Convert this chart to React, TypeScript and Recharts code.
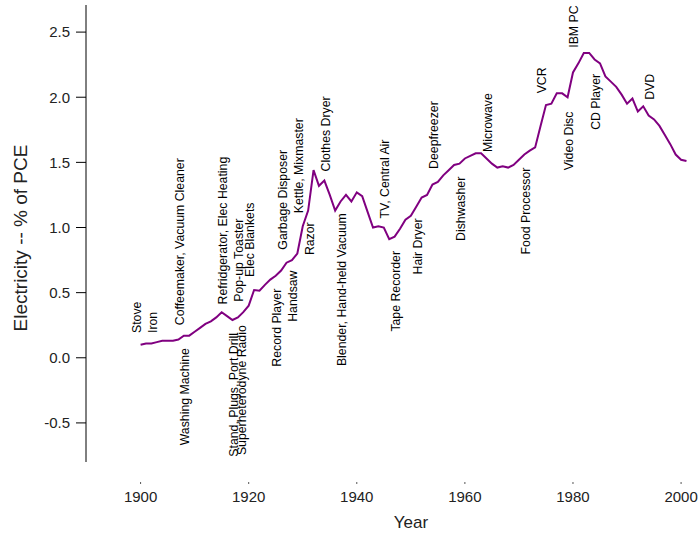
import { ComposedChart, Line, Scatter, XAxis, YAxis } from "recharts"

const firstYear = 1900
const pce = [
  0.10, 0.11, 0.11, 0.12, 0.13, 0.13, 0.13, 0.14, 0.17, 0.17,
  0.20, 0.23, 0.26, 0.28, 0.31, 0.35, 0.32, 0.29, 0.31, 0.35,
  0.40, 0.52, 0.515, 0.56, 0.60, 0.63, 0.67, 0.73, 0.75, 0.80,
  1.01, 1.13, 1.44, 1.32, 1.36, 1.25, 1.13, 1.20, 1.25, 1.20,
  1.27, 1.24, 1.12, 1.00, 1.01, 1.00, 0.91, 0.93, 0.99, 1.06,
  1.09, 1.16, 1.23, 1.25, 1.33, 1.35, 1.40, 1.44, 1.48, 1.49,
  1.53, 1.55, 1.57, 1.57, 1.53, 1.49, 1.46, 1.47, 1.46, 1.48,
  1.52, 1.56, 1.59, 1.615, 1.78, 1.94, 1.95, 2.03, 2.03, 2.00,
  2.19, 2.26, 2.34, 2.34, 2.29, 2.26, 2.16, 2.12, 2.08, 2.02,
  1.95, 1.99, 1.89, 1.93, 1.86, 1.83, 1.78, 1.71, 1.64, 1.56,
  1.52, 1.51,
]

const xTicks = [1900, 1920, 1940, 1960, 1980, 2000]
const yTicks = [-0.5, 0, 0.5, 1, 1.5, 2, 2.5]

// appliances written above the curve (text starts at the given value)
const aboveNames = [
  "Stove", "Iron", "Coffeemaker, Vacuum Cleaner", "Refridgerator, Elec Heating",
  "Pop-up Toaster", "Elec Blankets", "Garbage Disposer", "Kettle, Mixmaster",
  "Clothes Dryer", "TV, Central Air", "Deepfreezer", "Microwave", "VCR", "IBM PC", "DVD",
]
const aboveYears = [1900, 1903, 1908, 1916, 1919, 1921, 1927, 1930, 1935, 1946, 1955, 1965, 1975, 1981, 1995]
const aboveAt = [0.19, 0.19, 0.25, 0.41, 0.43, 0.62, 0.83, 1.11, 1.43, 1.07, 1.45, 1.58, 2.03, 2.38, 1.98]

// appliances written below the curve (text ends at the given value)
const belowNames = [
  "Washing Machine", "Stand, Plugs, Port Drill", "Superheterodyne Radio", "Record Player",
  "Handsaw", "Razor", "Blender, Hand-held Vacuum", "Tape Recorder", "Hair Dryer",
  "Dishwasher", "Food Processor", "Video Disc", "CD Player",
]
const belowYears = [1909, 1918, 1919.5, 1926, 1929, 1932, 1938, 1948, 1952, 1960, 1972, 1980, 1985]
const belowAt = [0.075, 0.19, 0.25, 0.53, 0.67, 1.04, 1.11, 0.82, 1.07, 1.39, 1.46, 1.89, 2.18]

const font = '"Liberation Sans", Arial, sans-serif'

const series = pce.map((value, i) => ({ year: firstYear + i, value }))
const notes = [
  ...aboveNames.map((name, i) => ({ name, year: aboveYears[i], value: aboveAt[i], side: "above" })),
  ...belowNames.map((name, i) => ({ name, year: belowYears[i], value: belowAt[i], side: "below" })),
]

function NoteText(props: any) {
  const { cx, cy, payload } = props
  return (
    <text
      x={cx}
      y={cy}
      transform={`rotate(-90 ${cx} ${cy})`}
      textAnchor={payload.side === "above" ? "start" : "end"}
      fontSize={12.3}
      fontFamily={font}
      fill="#000"
    >
      {payload.name}
    </text>
  )
}

function YearTick(props: any) {
  const { x, y, payload } = props
  return (
    <g>
      <line x1={x} x2={x} y1={y + 20} y2={y + 22} stroke="#555" />
      <text x={x} y={y + 40} textAnchor="middle" fontSize={15} fontFamily={font} fill="#222">
        {payload.value}
      </text>
    </g>
  )
}

export default function App() {
  return (
    <div style={{ position: "absolute", left: 0, top: 0, background: "#fff" }}>
      <ComposedChart width={700} height={535} data={series} margin={{ top: 5, right: 0, bottom: 0, left: 0 }}>
        <XAxis
          type="number"
          dataKey="year"
          domain={[1889.9, 2003.5]}
          allowDataOverflow
          ticks={xTicks}
          axisLine={false}
          tickLine={false}
          tickSize={0}
          tickMargin={0}
          height={73}
          tick={<YearTick />}
          label={{
            content: () => (
              <text x={411} y={528} textAnchor="middle" fontSize={17} fontFamily={font} fill="#222">
                Year
              </text>
            ),
          }}
        />
        <YAxis
          type="number"
          domain={[-0.8, 2.708]}
          allowDataOverflow
          ticks={yTicks}
          width={86}
          tickSize={10}
          tickMargin={6}
          tickFormatter={(v: number) => v.toFixed(1)}
          axisLine={{ stroke: "#000" }}
          tickLine={{ stroke: "#000" }}
          tick={{ fontSize: 15, fontFamily: font, fill: "#222" }}
          label={{
            content: () => (
              <text
                x={27}
                y={238}
                transform="rotate(-90 27 238)"
                textAnchor="middle"
                fontSize={19}
                fontFamily={font}
                fill="#222"
              >
                Electricity -- % of PCE
              </text>
            ),
          }}
        />
        <Line
          type="linear"
          dataKey="value"
          stroke="#800080"
          strokeWidth={2}
          dot={false}
          isAnimationActive={false}
        />
        <Scatter data={notes} dataKey="value" shape={<NoteText />} isAnimationActive={false} />
      </ComposedChart>
    </div>
  )
}
